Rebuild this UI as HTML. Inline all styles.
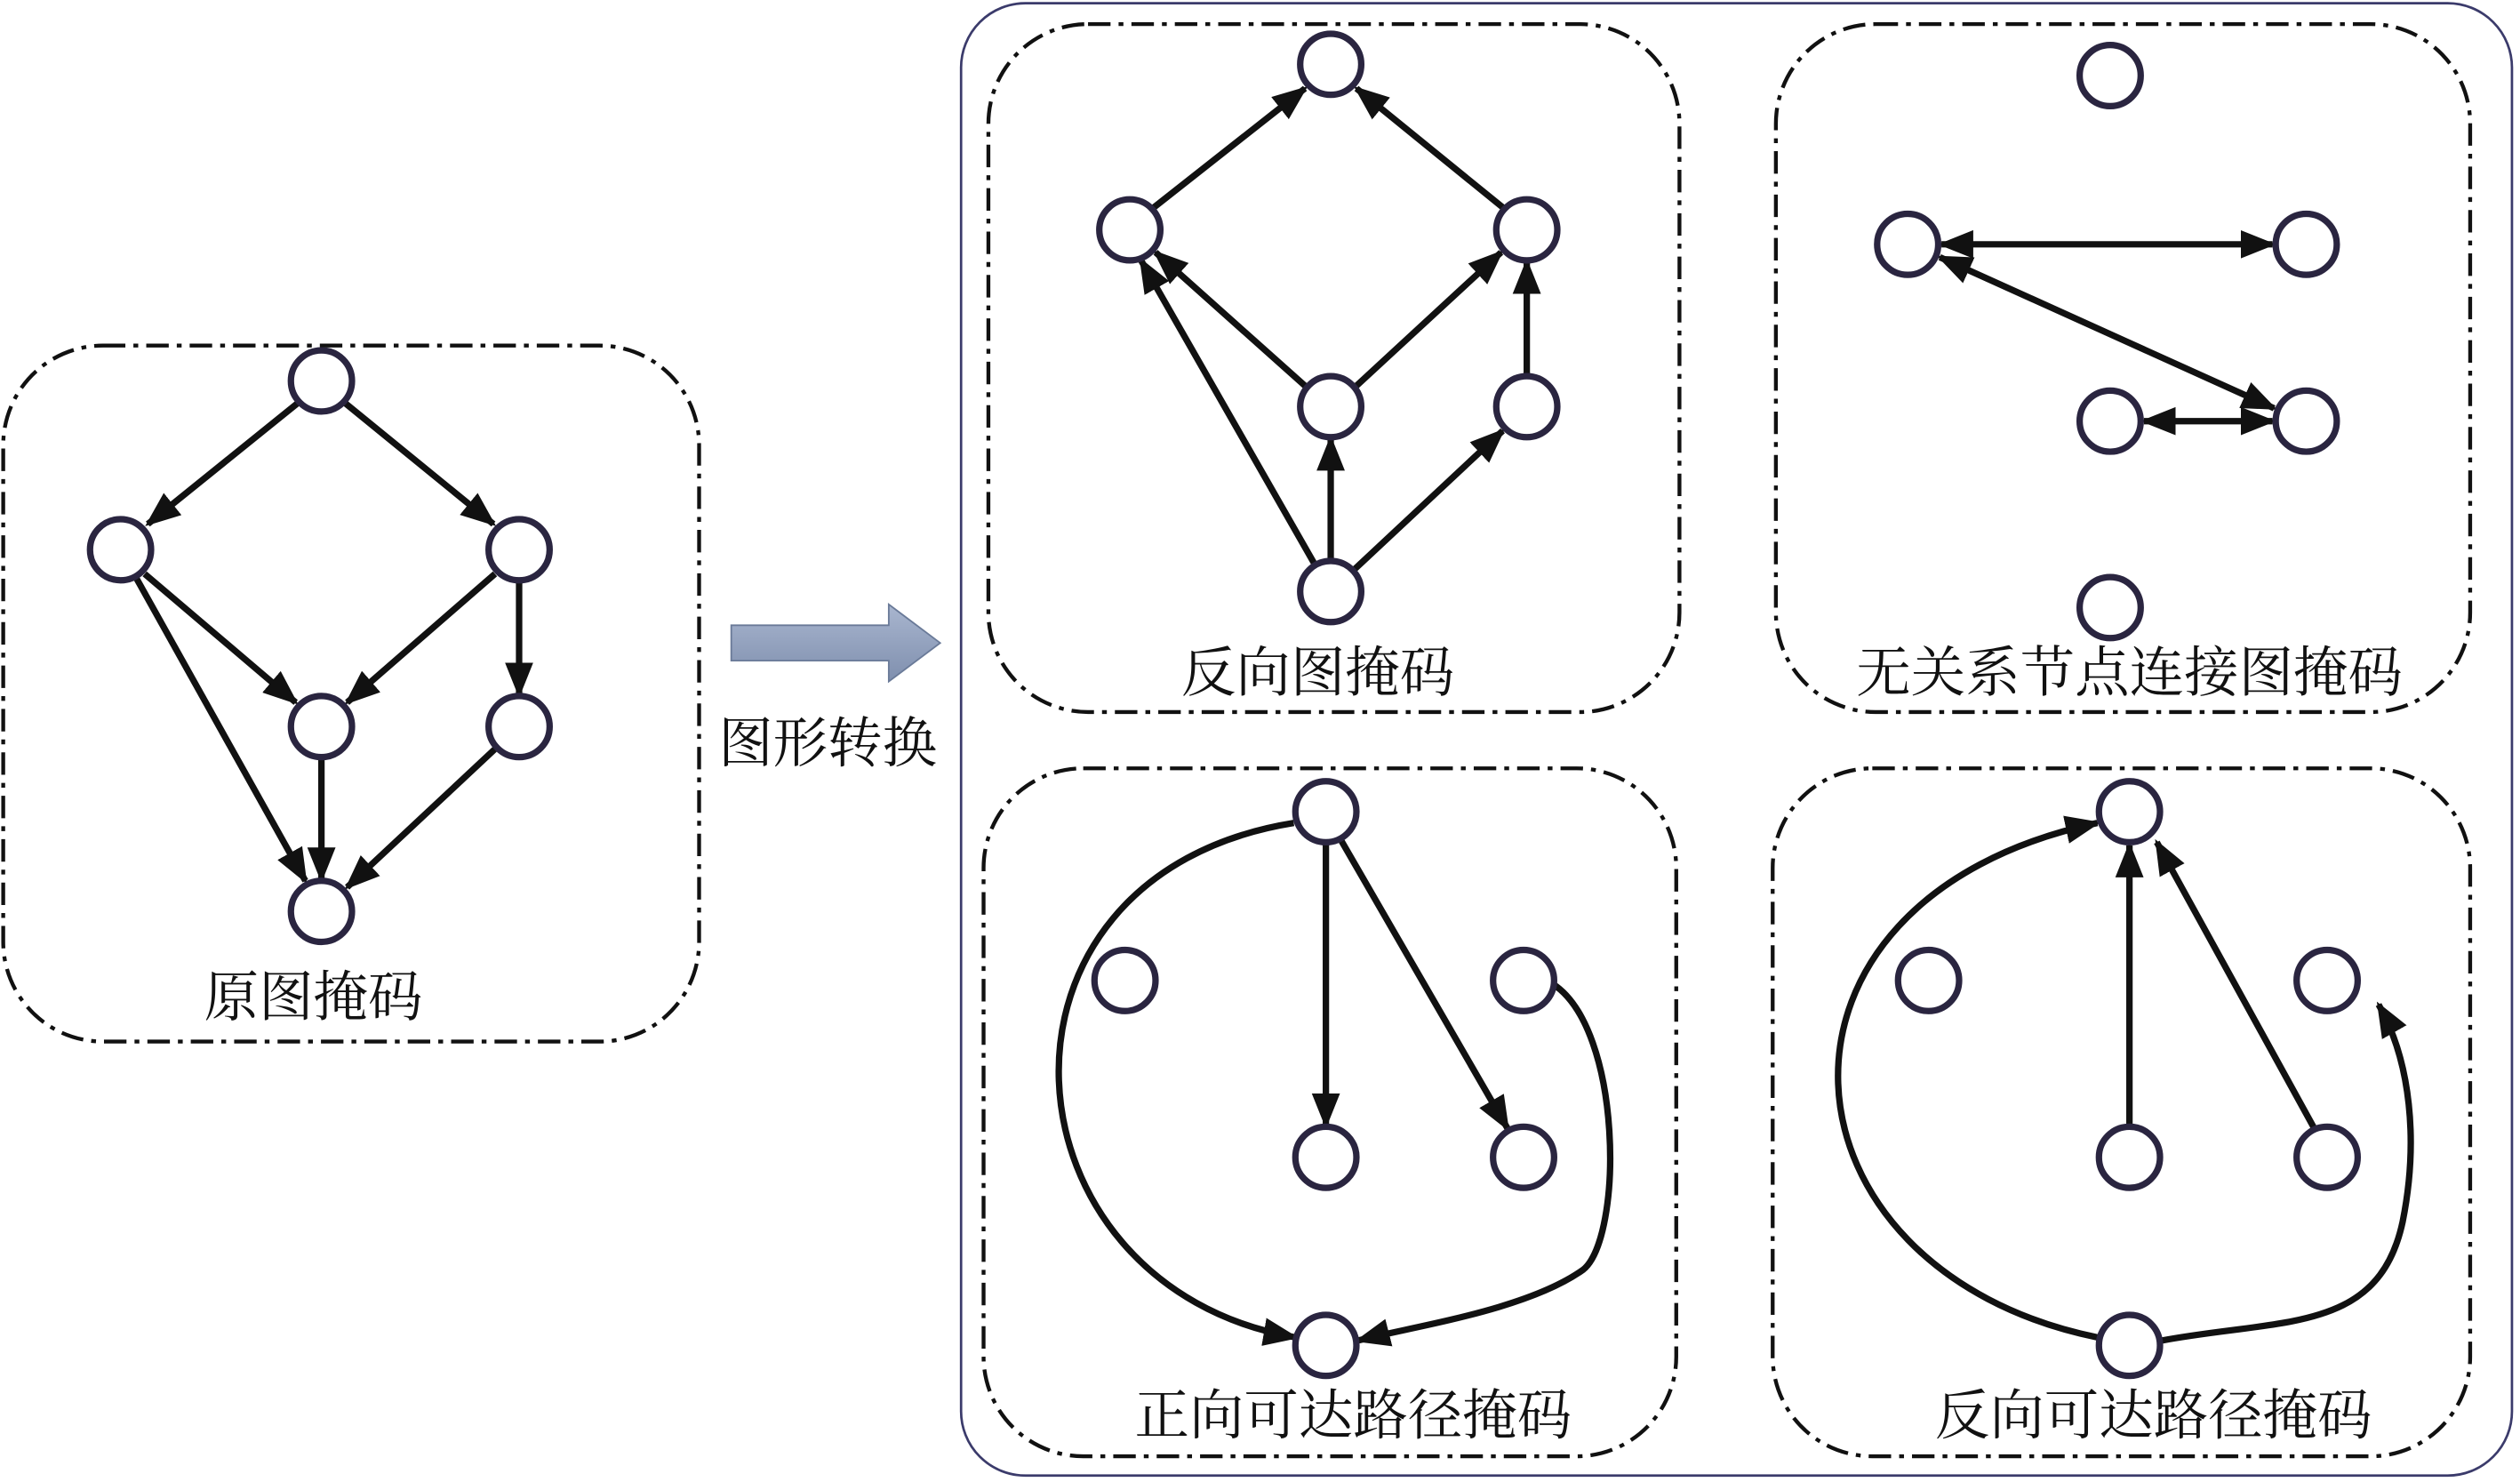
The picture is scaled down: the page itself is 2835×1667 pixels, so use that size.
<!DOCTYPE html>
<html><head><meta charset="utf-8"><style>
html,body{margin:0;padding:0;background:#fff;}
svg{display:block;}
text{font-family:"Liberation Serif","Noto Serif CJK SC","Noto Sans CJK SC",serif;fill:#111;}
</style></head><body>
<svg width="2835" height="1667" viewBox="0 0 1568 922" xmlns="http://www.w3.org/2000/svg">
<defs>
<marker id="ah" viewBox="0 0 10 10" refX="9" refY="5" markerWidth="5.5" markerHeight="5.5" orient="auto-start-reverse" markerUnits="strokeWidth">
<path d="M0,1 L10,5 L0,9 Z" fill="#111"/></marker>
<linearGradient id="ag" x1="0" y1="0" x2="0" y2="1"><stop offset="0" stop-color="#a9b6cf"/><stop offset="1" stop-color="#7f8fae"/></linearGradient>
</defs>
<g fill="none" stroke="#111" stroke-width="2.4" stroke-dasharray="14 5 3 5">
<rect x="2" y="215" width="433" height="433" rx="62"/>
<rect x="615" y="15" width="430" height="428" rx="62"/>
<rect x="1105" y="15" width="432" height="428" rx="62"/>
<rect x="612" y="478" width="431" height="428" rx="62"/>
<rect x="1103" y="478" width="434" height="428" rx="62"/>
</g>
<rect x="598" y="2" width="965" height="916" rx="40" fill="none" stroke="#3b3b6b" stroke-width="1.5"/>
<path d="M455,389 L553,389 L553,376 L585,400 L553,424 L553,411 L455,411 Z" fill="url(#ag)" stroke="#6a7a98" stroke-width="1"/>
<g stroke="#111" stroke-width="4" fill="none" marker-end="url(#ah)">
<line x1="185" y1="251" x2="92" y2="326"/>
<line x1="215" y1="251" x2="307" y2="326"/>
<line x1="90" y1="357" x2="184" y2="437"/>
<line x1="308" y1="357" x2="216" y2="437"/>
<line x1="85" y1="360" x2="190" y2="548"/>
<line x1="200" y1="471" x2="200" y2="547"/>
<line x1="323" y1="361" x2="323" y2="432"/>
<line x1="308" y1="466" x2="216" y2="552"/>
<line x1="718" y1="129" x2="812" y2="55"/>
<line x1="935" y1="129" x2="844" y2="55"/>
<line x1="812" y1="240" x2="719" y2="157"/>
<line x1="844" y1="240" x2="934" y2="157"/>
<line x1="950" y1="234" x2="950" y2="163"/>
<line x1="818" y1="351" x2="710" y2="162"/>
<line x1="828" y1="349" x2="828" y2="273"/>
<line x1="843" y1="354" x2="935" y2="268"/>
<line x1="825" y1="524" x2="825" y2="700"/>
<line x1="834" y1="522" x2="938" y2="702"/>
<path d="M805,512 C600,545 620,800 806,832"/>
<path d="M966,612 C1010,640 1010,770 985,790 C950,815 880,825 845,834"/>
<line x1="1325" y1="700" x2="1325" y2="526"/>
<line x1="1440" y1="702" x2="1342" y2="524"/>
<path d="M1305,832 C1100,790 1080,560 1305,512"/>
<path d="M1345,834 C1420,820 1480,830 1495,760 C1505,710 1500,660 1480,625"/>
</g>
<g stroke="#111" stroke-width="4" fill="none" marker-start="url(#ah)" marker-end="url(#ah)">
<line x1="1208" y1="152" x2="1414" y2="152"/>
<line x1="1207" y1="160" x2="1415" y2="254"/>
<line x1="1334" y1="262" x2="1414" y2="262"/>
</g>
<g fill="#fff" stroke="#2a2540" stroke-width="4">
<circle cx="200" cy="237" r="19"/><circle cx="75" cy="342" r="19"/><circle cx="323" cy="342" r="19"/>
<circle cx="200" cy="452" r="19"/><circle cx="323" cy="452" r="19"/><circle cx="200" cy="567" r="19"/>
<circle cx="828" cy="40" r="19"/><circle cx="703" cy="143" r="19"/><circle cx="950" cy="143" r="19"/>
<circle cx="828" cy="253" r="19"/><circle cx="950" cy="253" r="19"/><circle cx="828" cy="368" r="19"/>
<circle cx="1313" cy="47" r="19"/><circle cx="1187" cy="152" r="19"/><circle cx="1435" cy="152" r="19"/>
<circle cx="1313" cy="262" r="19"/><circle cx="1435" cy="262" r="19"/><circle cx="1313" cy="378" r="19"/>
<circle cx="825" cy="505" r="19"/><circle cx="700" cy="610" r="19"/><circle cx="948" cy="610" r="19"/>
<circle cx="825" cy="720" r="19"/><circle cx="948" cy="720" r="19"/><circle cx="825" cy="837" r="19"/>
<circle cx="1325" cy="505" r="19"/><circle cx="1200" cy="610" r="19"/><circle cx="1448" cy="610" r="19"/>
<circle cx="1325" cy="720" r="19"/><circle cx="1448" cy="720" r="19"/><circle cx="1325" cy="837" r="19"/>
</g>
<g font-size="34" text-anchor="middle">
<text x="195" y="632">原图掩码</text>
<text x="515" y="474">图形转换</text>
<text x="820" y="430">反向图掩码</text>
<text x="1325" y="430">无关系节点连接图掩码</text>
<text x="842" y="892">正向可达路径掩码</text>
<text x="1340" y="892">反向可达路径掩码</text>
</g>
</svg>
</body></html>
